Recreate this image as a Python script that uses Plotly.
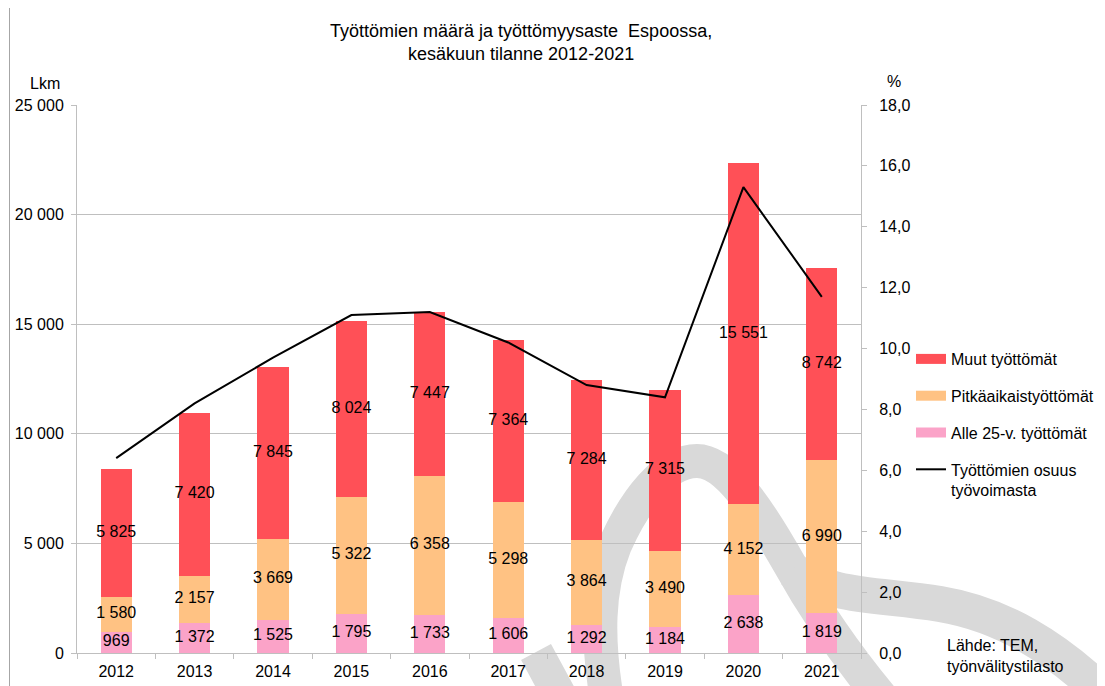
import plotly.graph_objects as go

# ---- data ----
years = ["2012", "2013", "2014", "2015", "2016", "2017", "2018", "2019", "2020", "2021"]
alle25 = [969, 1372, 1525, 1795, 1733, 1606, 1292, 1184, 2638, 1819]
pitka = [1580, 2157, 3669, 5322, 6358, 5298, 3864, 3490, 4152, 6990]
muut = [5825, 7420, 7845, 8024, 7447, 7364, 7284, 7315, 15551, 8742]
osuus = [6.4, 8.2, 9.7, 11.1, 11.2, 10.2, 8.8, 8.4, 15.3, 11.7]

names = ["Alle 25-v. työttömät", "Pitkäaikaistyöttömät", "Muut työttömät"]
line_name = "Työttömien osuus<br>työvoimasta"
colors = ["#FBA3C8", "#FFC283", "#FF5057"]

# page offset (body margin) compensation
OFF = 8
W, H = 1105 - OFF, 686 - OFF
# plot area in screen pixels
SX0, SX1, SY0, SY1 = 77, 861, 105, 653
L, T = SX0 - OFF, SY0 - OFF
R = W - (SX1 - OFF)
B = H - (SY1 - OFF)
PW, PH = SX1 - SX0, SY1 - SY0
FONT = "Liberation Sans, Arial, sans-serif"


def px(x):
    return (x - SX0) / PW


def py(y):
    return (SY1 - y) / PH


def fmt(v):
    return f"{v:,}".replace(",", " ")


fig = go.Figure()

series = [alle25, pitka, muut]
for vals, nm, col in zip(series, names, colors):
    fig.add_trace(go.Bar(x=years, y=vals, name=nm, marker=dict(color=col, line=dict(width=0)),
                         showlegend=False, hoverinfo="skip"))

# data labels centred in each segment
base = [0] * len(years)
for vals in series:
    mids = [b + v / 2 for b, v in zip(base, vals)]
    fig.add_trace(go.Scatter(x=years, y=mids, mode="text", text=[fmt(v) for v in vals],
                             textfont=dict(size=16, color="black", family=FONT),
                             showlegend=False, hoverinfo="skip"))
    base = [b + v for b, v in zip(base, vals)]

fig.add_trace(go.Scatter(x=years, y=osuus, yaxis="y2", mode="lines", name=line_name,
                         line=dict(color="black", width=2), showlegend=False, hoverinfo="skip"))

# legend entries (wide swatches like the original)
order = [2, 1, 0]
for rank, i in enumerate(order):
    fig.add_trace(go.Scatter(x=[None], y=[None], mode="lines", name=names[i],
                             line=dict(color=colors[i], width=10), legendgroup=f"g{rank}",
                             legendrank=rank + 1))
fig.add_trace(go.Scatter(x=[None], y=[None], mode="lines", name=line_name, yaxis="y2",
                         line=dict(color="black", width=2), legendgroup="g3", legendrank=4))

grey = "#BFBFBF"


# decorative swoosh (watermark) in background
def path(points_str):
    out = []
    for tok in points_str.split():
        if tok[0].isalpha():
            out.append(tok)
        else:
            a, b = tok.split(",")
            out.append(f"{px(float(a)):.4f},{py(float(b)):.4f}")
    return " ".join(out)


swoosh_col = "#D9D9D9"
band12 = ("M 536,652 L 562,700 "
          "M 607,700 C 597,640 597,590 615,545 C 635,500 665,461 697,461 "
          "C 727,461 760,512 790,565 C 815,610 850,660 885,702")
band3 = "M 792,570 C 830,598 880,594 940,604 C 1000,614 1055,645 1112,702"
shapes = [dict(type="path", xref="paper", yref="paper", path=path(band12), layer="below",
               line=dict(color=swoosh_col, width=34)),
          dict(type="path", xref="paper", yref="paper", path=path(band3), layer="below",
               line=dict(color=swoosh_col, width=36))]
# outer frame (left edge)
shapes.append(dict(type="line", xref="paper", yref="paper", x0=px(9.5), y0=py(0), x1=px(9.5),
                   y1=py(700), line=dict(color="#A6A6A6", width=1), layer="above"))

annotations = [
    dict(text="Työttömien määrä ja työttömyysaste  Espoossa,<br>kesäkuun tilanne 2012-2021",
         x=px(521), y=py(42), xref="paper", yref="paper", showarrow=False,
         font=dict(size=18, color="black", family=FONT), xanchor="center", yanchor="middle"),
    dict(text="Lkm", x=px(45), y=py(83), xref="paper", yref="paper", showarrow=False,
         font=dict(size=16, color="black", family=FONT), xanchor="center", yanchor="middle"),
    dict(text="%", x=px(894), y=py(82), xref="paper", yref="paper", showarrow=False,
         font=dict(size=16, color="black", family=FONT), xanchor="center", yanchor="middle"),
    dict(text="Lähde: TEM,<br>työnvälitystilasto", x=px(945), y=py(656), xref="paper", yref="paper",
         showarrow=False, align="left", font=dict(size=16, color="black", family=FONT),
         xanchor="left", yanchor="middle"),
]

fig.update_layout(
    width=W, height=H,
    margin=dict(l=L, r=R, t=T, b=B, autoexpand=False),
    paper_bgcolor="white", plot_bgcolor="rgba(0,0,0,0)",
    barmode="stack", bargap=0.6,
    separators=", ",
    font=dict(family=FONT, size=16, color="black"),
    shapes=shapes, annotations=annotations,
    xaxis=dict(type="category", showgrid=False, showline=True, linecolor=grey, linewidth=1,
               ticks="outside", tickson="boundaries", ticklen=5, tickcolor=grey,
               ticklabelstandoff=4,
               tickfont=dict(size=16, family=FONT, color="black"), zeroline=False),
    yaxis=dict(range=[0, 25000], dtick=5000, tickformat=",.0f", showgrid=True, gridcolor=grey,
               gridwidth=1, showline=True, linecolor=grey, ticks="outside", ticklen=5,
               tickcolor=grey, zeroline=False, ticklabelstandoff=4,
               tickfont=dict(size=16, family=FONT, color="black")),
    yaxis2=dict(range=[0, 18], dtick=2, tickformat=".1f", overlaying="y", side="right",
                showgrid=False, showline=True, linecolor=grey, ticks="outside", ticklen=5,
                tickcolor=grey, zeroline=False, ticklabelstandoff=9,
                tickfont=dict(size=16, family=FONT, color="black")),
    legend=dict(x=px(911), y=py(342), xanchor="left", yanchor="top", traceorder="grouped",
                tracegroupgap=13, valign="top", bgcolor="rgba(0,0,0,0)", itemwidth=30,
                font=dict(size=16, family=FONT, color="black")),
)

fig.write_html("out.html")
